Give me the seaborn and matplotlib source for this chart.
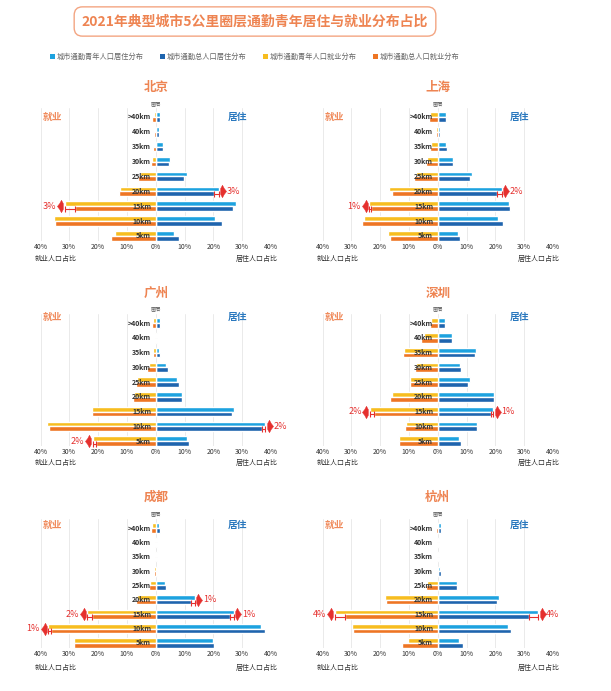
import matplotlib
matplotlib.use("Agg")
import matplotlib.pyplot as plt
from matplotlib.patches import Patch
import seaborn as sns
import pandas as pd

sns.set_style("white")
plt.rcParams['font.family'] = ['Noto Sans CJK SC', 'DejaVu Sans']

# ---------------- data ----------------
title = "2021年典型城市5公里圈层通勤青年居住与就业分布占比"
series_labels = ["城市通勤青年人口居住分布", "城市通勤总人口居住分布",
                 "城市通勤青年人口就业分布", "城市通勤总人口就业分布"]
rings = ['5km', '10km', '15km', '20km', '25km', '30km', '35km', '40km', '>40km']
xticks = [-40, -30, -20, -10, 0, 10, 20, 30, 40]
xticklabels = ['40%', '30%', '20%', '10%', '0%', '10%', '20%', '30%', '40%']
cities = ['北京', '上海', '广州', '深圳', '成都', '杭州']

# values listed from 5km up to >40km (percent)
bj_young_res = [6.2, 20.7, 27.7, 21.8, 11.0, 5.1, 2.5, 1.2, 1.4]
bj_total_res = [8.2, 23.1, 26.8, 20.3, 9.8, 4.6, 2.4, 1.3, 1.5]
bj_young_emp = [14.3, 35.4, 31.5, 12.5, 5.3, 1.3, 0.4, 0.3, 0.5]
bj_total_emp = [15.6, 35.0, 28.0, 12.7, 6.1, 1.7, 0.8, 0.5, 1.2]

sh_young_res = [7.1, 20.8, 24.7, 22.2, 11.9, 5.4, 3.0, 0.8, 2.8]
sh_total_res = [7.7, 22.8, 25.1, 20.6, 11.1, 5.3, 3.2, 0.8, 2.8]
sh_young_emp = [17.1, 25.5, 23.7, 16.8, 7.5, 3.6, 2.3, 0.5, 2.7]
sh_total_emp = [16.5, 26.2, 23.2, 15.8, 8.1, 4.0, 2.7, 0.7, 3.0]

gz_young_res = [11.0, 38.0, 27.2, 9.1, 7.5, 3.7, 1.3, 0.4, 1.5]
gz_total_res = [11.4, 37.0, 26.5, 9.1, 8.0, 4.3, 1.4, 0.4, 1.6]
gz_young_emp = [21.8, 37.9, 22.0, 7.7, 6.4, 2.5, 0.8, 0.3, 1.0]
gz_total_emp = [20.6, 37.1, 22.2, 7.9, 6.9, 3.1, 1.0, 0.3, 1.3]

sz_young_res = [7.4, 13.6, 19.1, 19.4, 11.3, 7.7, 13.3, 5.1, 2.4]
sz_total_res = [8.1, 13.6, 18.5, 19.4, 10.6, 8.1, 12.8, 5.1, 2.4]
sz_young_emp = [13.6, 11.0, 23.5, 16.0, 9.5, 7.5, 11.8, 4.6, 2.3]
sz_total_emp = [13.5, 11.3, 22.0, 16.4, 9.6, 8.0, 11.9, 5.8, 2.8]

cd_young_res = [19.8, 36.4, 27.0, 13.5, 3.1, 0.6, 0.4, 0.4, 1.3]
cd_total_res = [20.2, 37.8, 25.8, 12.3, 3.6, 0.6, 0.4, 0.4, 1.5]
cd_young_emp = [28.3, 37.3, 23.7, 6.4, 2.0, 0.5, 0.2, 0.2, 1.2]
cd_total_emp = [28.5, 36.3, 22.0, 6.9, 2.5, 0.6, 0.2, 0.2, 1.7]

hz_young_res = [7.3, 24.4, 34.8, 21.3, 6.6, 0.9, 0.4, 0.4, 1.0]
hz_total_res = [8.9, 25.4, 31.5, 20.7, 6.8, 1.3, 0.4, 0.4, 1.2]
hz_young_emp = [10.4, 29.8, 35.8, 18.3, 3.7, 0.3, 0.1, 0.1, 0.4]
hz_total_emp = [12.3, 29.4, 32.2, 17.8, 4.2, 0.3, 0.1, 0.1, 0.6]

city_data = {
    '北京': (bj_young_res, bj_total_res, bj_young_emp, bj_total_emp),
    '上海': (sh_young_res, sh_total_res, sh_young_emp, sh_total_emp),
    '广州': (gz_young_res, gz_total_res, gz_young_emp, gz_total_emp),
    '深圳': (sz_young_res, sz_total_res, sz_young_emp, sz_total_emp),
    '成都': (cd_young_res, cd_total_res, cd_young_emp, cd_total_emp),
    '杭州': (hz_young_res, hz_total_res, hz_young_emp, hz_total_emp),
}

# growth annotations: (city, ring, side, label)
annotations = [
    ('北京', '20km', 'res', '3%'), ('北京', '15km', 'emp', '3%'),
    ('上海', '20km', 'res', '2%'), ('上海', '15km', 'emp', '1%'),
    ('广州', '10km', 'res', '2%'), ('广州', '5km', 'emp', '2%'),
    ('深圳', '15km', 'res', '1%'), ('深圳', '15km', 'emp', '2%'),
    ('成都', '20km', 'res', '1%'), ('成都', '15km', 'res', '1%'),
    ('成都', '15km', 'emp', '2%'), ('成都', '10km', 'emp', '1%'),
    ('杭州', '15km', 'res', '4%'), ('杭州', '15km', 'emp', '4%'),
]

# ---------------- style ----------------
C_LB = '#1DA2DF'
C_DB = '#1E64AE'
C_GOLD = '#F7BD1F'
C_OR = '#EE7524'
C_TITLE = '#EE8452'
C_RED = '#E5302E'
C_JY = '#F08A5B'
C_JZ = '#2A78BE'

ARROW_R = [(0, 1), (0.3, 0.45), (0.65, 0), (0.3, -0.45), (0, -1),
           (-0.3, -0.45), (-0.3, 0.45), (0, 1)]
ARROW_L = [(-x, y) for x, y in ARROW_R]

W, H = 611, 691
fig = plt.figure(figsize=(W / 100, H / 100), dpi=100)
fig.patch.set_facecolor('white')


def fx(px):
    return px / W


def fy(py):
    return 1 - py / H


# title with rounded box
fig.text(fx(255), fy(21.5), title, ha='center', va='center', fontsize=10,
         fontweight='bold', color=C_TITLE,
         bbox=dict(boxstyle='round,pad=0.55,rounding_size=0.6', fc='white',
                   ec='#F3A582', lw=1.0))

# legend
handles = [Patch(facecolor=c, edgecolor='none') for c in [C_LB, C_DB, C_GOLD, C_OR]]
fig.legend(handles, series_labels, ncol=4, loc='center',
           bbox_to_anchor=(fx(255), fy(57)), frameon=False, fontsize=5.2,
           labelcolor='#666666', handlelength=0.6, handleheight=0.6,
           handletextpad=0.3, columnspacing=2.3)

# panel geometry (pixels)
col_x = [(40.5, 271.0), (322.5, 553.0)]
row_geo = [
    dict(top=108.0, bot=241.2, ttl=87, hdr=104, side=117, blab=259),
    dict(top=314.2, bot=446.2, ttl=293, hdr=309, side=317, blab=463),
    dict(top=519.4, bot=648.0, ttl=497, hdr=514, side=525, blab=668),
]

order = rings[::-1]  # >40km at top
pos = {r: i for i, r in enumerate(order)}
BW = 0.64
off = BW / 4

for k, city in enumerate(cities):
    r, c = divmod(k, 2)
    x0, x1 = col_x[c]
    g = row_geo[r]
    ax = fig.add_axes([fx(x0), fy(g['bot']), (x1 - x0) / W, (g['bot'] - g['top']) / H])
    yr, tr, ye, te = city_data[city]

    df_res = pd.DataFrame({
        'ring': rings * 2,
        'series': ['young'] * 9 + ['total'] * 9,
        'value': list(yr) + list(tr),
    })
    df_emp = pd.DataFrame({
        'ring': rings * 2,
        'series': ['young'] * 9 + ['total'] * 9,
        'value': [-v for v in ye] + [-v for v in te],
    })
    sns.barplot(data=df_res, x='value', y='ring', hue='series', order=order,
                hue_order=['young', 'total'], palette=[C_LB, C_DB], orient='h',
                width=BW, errorbar=None, legend=False, saturation=1, ax=ax,
                zorder=2)
    sns.barplot(data=df_emp, x='value', y='ring', hue='series', order=order,
                hue_order=['young', 'total'], palette=[C_GOLD, C_OR], orient='h',
                width=BW, errorbar=None, legend=False, saturation=1, ax=ax,
                zorder=2)

    ax.set_xlim(-40, 40)
    ax.set_ylim(8.35, -0.6)
    ax.set_xticks(xticks)
    ax.set_xticklabels(xticklabels, fontsize=5, color='#333333')
    ax.tick_params(axis='x', length=0, pad=1.5)
    ax.set_yticks([])
    ax.set_xlabel('')
    ax.set_ylabel('')
    for s in ax.spines.values():
        s.set_visible(False)
    ax.grid(axis='x', color='#E6E6E6', lw=0.6, zorder=0)
    ax.set_axisbelow(True)
    ax.set_facecolor('none')

    # ring labels inside
    for rname in rings:
        ax.text(-1.6, pos[rname], rname, ha='right', va='center', fontsize=5,
                fontweight='bold', color='#333333', zorder=5)

    xc = (x0 + x1) / 2
    fig.text(fx(xc), fy(g['ttl']), city, ha='center', va='center', fontsize=9,
             fontweight='bold', color=C_TITLE)
    fig.text(fx(xc), fy(g['hdr']), '圈层', ha='center', va='center', fontsize=3.8,
             color='#555555')
    sx = (x1 - x0) / 80.0
    fig.text(fx(xc - 35.7 * sx), fy(g['side']), '就业', ha='center', va='center',
             fontsize=7, fontweight='bold', color=C_JY)
    fig.text(fx(xc + 28.5 * sx), fy(g['side']), '居住', ha='center', va='center',
             fontsize=7, fontweight='bold', color=C_JZ)
    fig.text(fx(x0 - 6), fy(g['blab']), '就业人口占比', ha='left', va='center',
             fontsize=5, color='#333333')
    fig.text(fx(x1 + 7), fy(g['blab']), '居住人口占比', ha='right', va='center',
             fontsize=5, color='#333333')

    # growth annotations
    for (cn, rname, side, lab) in annotations:
        if cn != city:
            continue
        i = rings.index(rname)
        p = pos[rname]
        if side == 'res':
            yv, tv, sgn = yr[i], tr[i], 1
        else:
            yv, tv, sgn = ye[i], te[i], -1
        lo, hi = sorted([tv, yv])
        ax.errorbar([sgn * (lo + hi) / 2], [p + off + 0.04], xerr=[[(hi - lo) / 2]],
                    fmt='none', ecolor=C_RED, elinewidth=0.8, capsize=2.2,
                    capthick=0.8, zorder=6, clip_on=False)
        mx = sgn * (max(yv, tv) + 1.3)
        ax.plot([mx], [p], marker=ARROW_R if sgn > 0 else ARROW_L, markersize=9,
                color=C_RED, mec=C_RED, mew=0.3, zorder=7, clip_on=False)
        ax.text(mx + sgn * 1.6, p, lab, ha='left' if sgn > 0 else 'right',
                va='center', fontsize=6.5, color=C_RED, zorder=7, clip_on=False)

fig.savefig('out.png', dpi=100, facecolor='white')
